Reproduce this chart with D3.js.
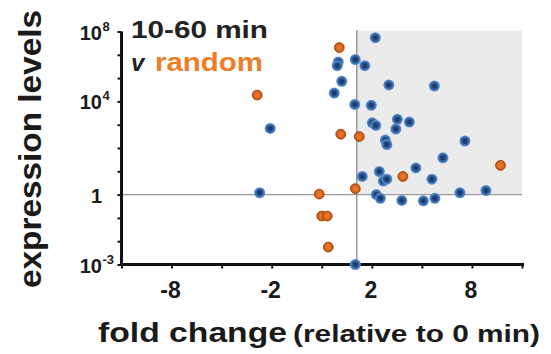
<!DOCTYPE html>
<html>
<head>
<meta charset="utf-8">
<script src="https://cdn.jsdelivr.net/npm/d3@7"></script>
<style>
  body { margin: 0; background: #fff; }
  svg { display: block; }
  text { font-family: "Liberation Sans", Arial, Helvetica, sans-serif; font-weight: bold; }
</style>
</head>
<body>
<svg id="chart" width="551" height="354"></svg>
<script>
// Genes changing between 10 and 60 min: log2 fold change vs expression level
const blueLog2Fold = [1.07, 0.33, 0.31, 0.67, 0.86, 0.40, 1.34, 2.25, 0.25, 0.66, 0.99, 1.01,
  1.08, 1.51, 1.48, 1.75, 1.27, 1.30, 2.86, 2.42, 1.88, -1.03, -1.24, 0.81, 1.15, 1.23,
  1.30, 2.20, 1.09, 1.17, 1.60, 2.03, 2.26, 2.76, 3.28, 0.67];
const blueExpression = [4.4e7, 1.8e6, 1.1e6, 2.5e6, 1.1e6, 1.4e5, 8.7e4, 7.6e4, 3.0e4, 7400, 6800, 1200,
  930, 1700, 650, 1300, 220, 140, 200, 38, 14, 690, 1.2, 6.0, 9.8, 3.8,
  4.6, 4.6, 1.0, 0.69, 0.56, 0.54, 0.69, 1.2, 1.5, 0.001];

// Randomly chosen genes
const orangeLog2Fold = [0.35, -1.29, 0.38, 0.75, 1.62, 3.57, 0.67, -0.05, 0.00, 0.11, 0.13];
const orangeExpression = [1.2e7, 2.3e4, 390, 310, 6.0, 18, 1.8, 1.05, 0.12, 0.12, 0.0056];

// Axes
const xDomain = [-4, 4];
const xTickValues = [-3, -1, 1, 3];
const xTickLabels = ["-8", "-2", "2", "8"];
const yBreaks = [1e-3, 1, 1e4, 1e8];
const yTickBase = ["10", "1", "10", "10"];
const yTickExp = ["-3", "", "4", "8"];

// Highlighted region thresholds
const foldThreshold = 0.7;     // log2 fold change
const expressionThreshold = 1;

const svg = d3.select("#chart");
const plotLeft = 121.5, plotRight = 522, plotTop = 31.5, plotBottom = 264.5;
const plotH = plotBottom - plotTop;

const x = d3.scaleLinear().domain(xDomain).range([plotLeft, plotRight]);
// piecewise log scale: the labelled decades sit at 0, 3/10, 7/10 and 10/10 of the axis
const y = d3.scaleLog().domain(yBreaks)
  .range([plotBottom, plotBottom - 0.3 * plotH, plotBottom - 0.7 * plotH, plotTop]);

// shaded quadrant
svg.append("rect")
  .attr("x", x(foldThreshold)).attr("y", y(yBreaks[3]) - 1)
  .attr("width", x(xDomain[1]) - x(foldThreshold))
  .attr("height", y(expressionThreshold) - y(yBreaks[3]) + 1)
  .attr("fill", "#ebebeb");

// reference lines
svg.append("line")
  .attr("x1", plotLeft).attr("x2", x(xDomain[1]))
  .attr("y1", y(expressionThreshold)).attr("y2", y(expressionThreshold))
  .attr("stroke", "#9a9a9a").attr("stroke-width", 1.3);
svg.append("line")
  .attr("x1", x(foldThreshold)).attr("x2", x(foldThreshold))
  .attr("y1", y(yBreaks[3]) - 1.5).attr("y2", plotBottom)
  .attr("stroke", "#8a8a8a").attr("stroke-width", 1.3);

// axes
const yMinorTicks = d3.range(11).map(i => y.invert(plotBottom - i * plotH / 10));
const yAxis = svg.append("g").attr("transform", `translate(${plotLeft},0)`)
  .call(d3.axisLeft(y).tickValues(yMinorTicks).tickFormat("").tickSize(4).tickSizeOuter(0));
const xAxis = svg.append("g").attr("transform", `translate(0,${plotBottom})`)
  .call(d3.axisBottom(x).tickValues(d3.range(xDomain[0], xDomain[1] + 1)).tickFormat("").tickSize(4).tickSizeOuter(0));
[yAxis, xAxis].forEach(g => {
  g.select(".domain").attr("stroke", "#111").attr("stroke-width", 3);
  g.selectAll(".tick line").attr("stroke", "#111").attr("stroke-width", 2);
});
xAxis.select(".domain").attr("d", `M${plotLeft - 1.5},0H${plotRight + 2}`);
yAxis.select(".domain").attr("d", `M0,${plotTop}V${plotBottom}`);

// y tick labels
yBreaks.forEach((v, i) => {
  svg.append("text").attr("x", 102).attr("y", y(v) + 8)
    .attr("text-anchor", "end").attr("font-size", 20).attr("fill", "#1a1a1a")
    .text(yTickBase[i]);
  if (yTickExp[i]) {
    svg.append("text").attr("x", 102.5).attr("y", y(v) - 1)
      .attr("font-size", 13).attr("fill", "#1a1a1a")
      .text(yTickExp[i]);
  }
});

// x tick labels
xTickValues.forEach((v, i) => {
  svg.append("text").attr("x", x(v) - 1).attr("y", 298)
    .attr("text-anchor", "middle").attr("font-size", 23).attr("fill", "#1a1a1a")
    .text(xTickLabels[i]);
});

// axis titles
svg.append("text")
  .attr("transform", "translate(41,149) rotate(-90)")
  .attr("text-anchor", "middle").attr("font-size", 31).attr("fill", "#1a1a1a")
  .attr("textLength", 278).attr("lengthAdjust", "spacingAndGlyphs")
  .text("expression levels");
svg.append("text").attr("x", 98).attr("y", 342)
  .attr("font-size", 27).attr("fill", "#1a1a1a")
  .attr("textLength", 189).attr("lengthAdjust", "spacingAndGlyphs")
  .text("fold change");
svg.append("text").attr("x", 293).attr("y", 342)
  .attr("font-size", 23).attr("fill", "#1a1a1a")
  .attr("textLength", 247).attr("lengthAdjust", "spacingAndGlyphs")
  .text("(relative to 0 min)");

// legend text
svg.append("text").attr("x", 131).attr("y", 37.5)
  .attr("font-size", 24).attr("fill", "#222")
  .attr("textLength", 137).attr("lengthAdjust", "spacingAndGlyphs")
  .text("10-60 min");
svg.append("text").attr("x", 131).attr("y", 71)
  .attr("font-size", 24).attr("font-style", "italic").attr("fill", "#222")
  .text("v");
svg.append("text").attr("x", 155).attr("y", 71)
  .attr("font-size", 25).attr("fill", "#ee7d26")
  .attr("textLength", 108).attr("lengthAdjust", "spacingAndGlyphs")
  .text("random");

// marker styles
const defs = svg.append("defs");
const blueGrad = defs.append("radialGradient").attr("id", "blueDot");
blueGrad.append("stop").attr("offset", "0%").attr("stop-color", "#17325c");
blueGrad.append("stop").attr("offset", "40%").attr("stop-color", "#22457a");
blueGrad.append("stop").attr("offset", "70%").attr("stop-color", "#3c6fb3");
blueGrad.append("stop").attr("offset", "100%").attr("stop-color", "#6396d4");
const orangeGrad = defs.append("radialGradient").attr("id", "orangeDot");
orangeGrad.append("stop").attr("offset", "0%").attr("stop-color", "#f07c2c");
orangeGrad.append("stop").attr("offset", "60%").attr("stop-color", "#e06a1e");
orangeGrad.append("stop").attr("offset", "100%").attr("stop-color", "#b04f16");
defs.append("filter").attr("id", "soft")
  .append("feGaussianBlur").attr("stdDeviation", 0.7);

const blueData = blueLog2Fold.map((f, i) => ({ f, e: blueExpression[i] }));
const orangeData = orangeLog2Fold.map((f, i) => ({ f, e: orangeExpression[i] }));

svg.append("g").attr("filter", "url(#soft)")
  .selectAll("circle").data(blueData).join("circle")
  .attr("cx", d => x(d.f)).attr("cy", d => y(d.e)).attr("r", 5.5)
  .attr("fill", "url(#blueDot)");
svg.append("g").attr("filter", "url(#soft)")
  .selectAll("circle").data(orangeData).join("circle")
  .attr("cx", d => x(d.f)).attr("cy", d => y(d.e)).attr("r", 4.9)
  .attr("fill", "url(#orangeDot)").attr("stroke", "#a84814").attr("stroke-width", 1);
</script>
</body>
</html>
